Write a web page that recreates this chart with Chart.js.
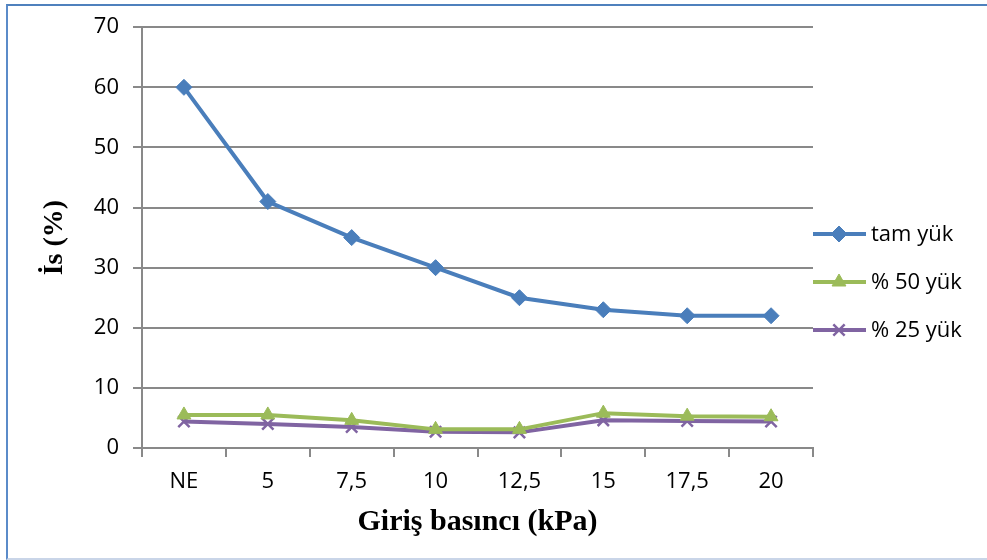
<!DOCTYPE html>
<html>
<head>
<meta charset="utf-8">
<script src="https://cdn.jsdelivr.net/npm/chart.js@4/dist/chart.umd.min.js"></script>
<style>
    html, body { margin: 0; padding: 0; background: #fff; }
    #wrap { position: relative; width: 987px; height: 560px; overflow: hidden; }
    #frame { position: absolute; left: 6px; top: 4px; width: 1000px; height: 552px;
             border-top: 2px solid #4f81bd; border-left: 2px solid #5b8bc9; border-bottom: 2px solid #c9d5e8; }
    canvas { position: absolute; left: 0; top: 0; }
</style>
</head>
<body>
<div id="wrap">
    <div id="frame"></div>
    <canvas id="chart" width="987" height="560"></canvas>
</div>
<script>
const categories = ['NE', '5', '7,5', '10', '12,5', '15', '17,5', '20'];
const tamYuk = [60, 41, 35, 30, 25, 23, 22, 22];
const yuk50 = [5.5, 5.5, 4.6, 3.1, 3.1, 5.8, 5.3, 5.2];
const yuk25 = [4.4, 4.0, 3.5, 2.7, 2.6, 4.6, 4.5, 4.4];
const seriesNames = ['tam yük', '% 50 yük', '% 25 yük'];

const gridGray = '#898989';

// legend drawn like the office style: short line with marker in the middle
const sideLegend = {
    id: 'sideLegend',
    afterDraw(chart) {
        const ctx = chart.ctx;
        const rows = [234, 282, 330];
        chart.data.datasets.forEach((ds, i) => {
            const y = rows[i];
            ctx.save();
            ctx.strokeStyle = ds.borderColor;
            ctx.lineWidth = 4;
            ctx.beginPath();
            ctx.moveTo(813, y);
            ctx.lineTo(866, y);
            ctx.stroke();
            ctx.fillStyle = ds.backgroundColor;
            ctx.lineWidth = ds.pointBorderWidth;
            Chart.helpers.drawPoint(ctx, {
                pointStyle: ds.pointStyle,
                radius: ds.pointRadius,
                borderWidth: ds.pointBorderWidth
            }, 839, y);
            ctx.fillStyle = '#000';
            ctx.font = '22px "Open Sans"';
            ctx.textBaseline = 'middle';
            ctx.fillText(ds.label, 871, y + 1);
            ctx.restore();
        });
    }
};

function pointOpts(color) {
    return {
        borderColor: color,
        backgroundColor: color,
        pointBackgroundColor: color,
        pointBorderColor: color
    };
}

new Chart(document.getElementById('chart'), {
    type: 'line',
    data: {
        labels: categories,
        datasets: [
            Object.assign({
                label: seriesNames[0], data: tamYuk, borderWidth: 4,
                pointStyle: 'rectRot', pointRadius: 8, pointBorderWidth: 1
            }, pointOpts('#4a7ebb')),
            Object.assign({
                label: seriesNames[1], data: yuk50, borderWidth: 4,
                pointStyle: 'triangle', pointRadius: 8, pointBorderWidth: 1
            }, pointOpts('#9bbb59')),
            Object.assign({
                label: seriesNames[2], data: yuk25, borderWidth: 4,
                pointStyle: 'crossRot', pointRadius: 8, pointBorderWidth: 2.5
            }, pointOpts('#8064a2'))
        ]
    },
    options: {
        responsive: false,
        animation: false,
        layout: { padding: { left: 30, right: 174, top: 20, bottom: 12 } },
        plugins: { legend: { display: false }, tooltip: { enabled: false } },
        elements: { line: { tension: 0 } },
        scales: {
            x: {
                offset: true,
                grid: { offset: true, drawOnChartArea: false, color: gridGray, tickLength: 9, lineWidth: 2 },
                border: { color: gridGray, width: 2 },
                ticks: { color: '#000', font: { family: 'Open Sans', size: 22 }, padding: 12, maxRotation: 0 },
                title: {
                    display: true, text: 'Giriş basıncı (kPa)', color: '#000',
                    font: { family: 'Liberation Serif', size: 30, weight: 'bold' },
                    padding: { top: 0, bottom: 8 }
                },
                afterFit(scale) { scale.height = 100; }
            },
            y: {
                min: 0, max: 70,
                ticks: { stepSize: 10, color: '#000', font: { family: 'Open Sans', size: 22 }, padding: 14 },
                grid: { color: gridGray, tickLength: 9, lineWidth: 2 },
                border: { color: gridGray, width: 2 },
                title: {
                    display: true, text: 'İs (%)', color: '#000',
                    font: { family: 'Liberation Serif', size: 28, weight: 'bold' },
                    padding: { top: 8, bottom: 0 }
                },
                afterFit(scale) { scale.width = 112; }
            }
        }
    },
    plugins: [sideLegend]
});
</script>
</body>
</html>
